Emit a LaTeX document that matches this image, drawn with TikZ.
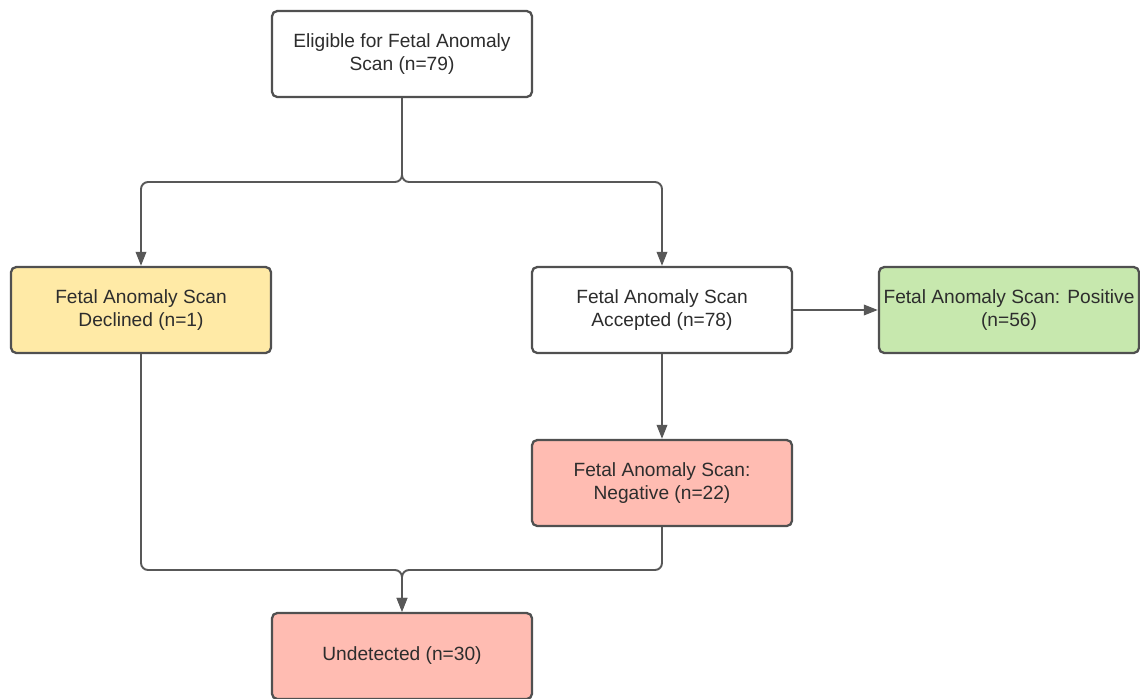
\documentclass[tikz,border=0pt]{standalone}
\usepackage{fontspec}
\setmainfont{Liberation Sans}
\usepackage{xcolor}
\usetikzlibrary{arrows.meta, math}
\definecolor{lgray}{RGB}{88,88,88}
\definecolor{bgray}{RGB}{80,80,80}
\definecolor{tgray}{RGB}{45,45,45}
\definecolor{qyellow}{RGB}{255,234,166}
\definecolor{qgreen}{RGB}{199,232,174}
\definecolor{qred}{RGB}{255,188,178}

\begin{document}
\begin{tikzpicture}[
  box/.style={draw=bgray, line width=1.3pt, rounded corners=3pt, fill=white,
    minimum width=\w cm, minimum height=\h cm, inner xsep=1pt, align=center,
    text=tgray, font=\fontsize{10.9}{13.6}\selectfont},
  conn/.style={draw=lgray, line width=1.1pt, rounded corners=4pt,
    -{Triangle[length=8pt,width=6pt]}}
]
\tikzmath{
\w=5.2;
\h=1.72;
}
\useasboundingbox (0,0) rectangle (22.8,-13.96);
%boxes
\node[box] (elig) at (8.04,-1.08) {Eligible for Fetal Anomaly\\Scan (n=79)};
\node[box, fill=qyellow] (decl) at (2.82,-6.2) {Fetal Anomaly Scan\\Declined (n=1)};
\node[box] (acc) at (13.24,-6.2) {Fetal Anomaly Scan\\Accepted (n=78)};
\node[box, fill=qgreen] (pos) at (20.18,-6.2) {Fetal Anomaly Scan: Positive\\(n=56)};
\node[box, fill=qred] (neg) at (13.24,-9.66) {Fetal Anomaly Scan:\\Negative (n=22)};
\node[box, fill=qred] (und) at (8.04,-13.12) {Undetected (n=30)};
%split and merge points
\coordinate (split) at (8.04,-3.64);
\coordinate (merge) at (8.04,-11.4);
%connectors
\draw[conn] (elig.south) -- (split) -| (decl.north);
\draw[conn] (elig.south) -- (split) -| (acc.north);
\draw[conn] (acc.east) -- (pos.west);
\draw[conn] (acc.south) -- (neg.north);
\draw[conn] (decl.south) |- (merge) -- (und.north);
\draw[conn] (neg.south) |- (merge) -- (und.north);
\end{tikzpicture}
\end{document}
